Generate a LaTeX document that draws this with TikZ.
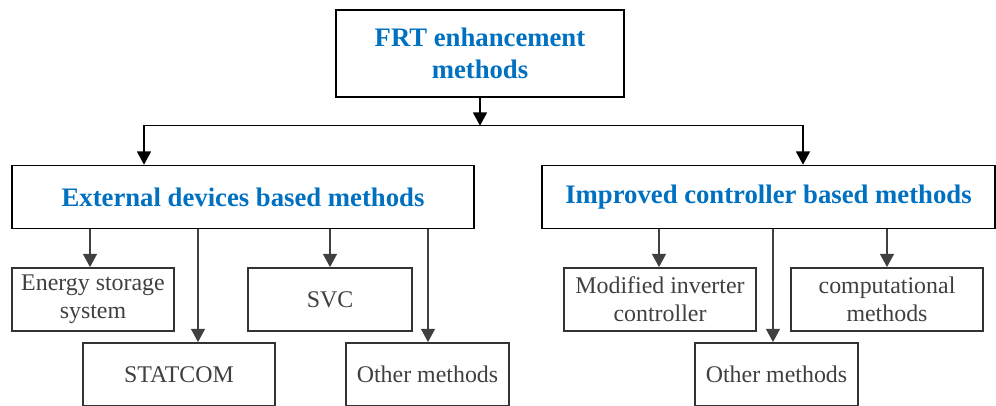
\documentclass[tikz,border=0pt]{standalone}
\usepackage{fontspec}
\setmainfont{Liberation Serif}
\usepackage{tikz}
\usetikzlibrary{positioning, arrows.meta}
\usepackage{xcolor}
\definecolor{headblue}{RGB}{0,112,192}
\definecolor{leafgray}{RGB}{64,64,64}

\begin{document}
\begin{tikzpicture}[
    node distance=0.95cm and 1cm,
    head/.style={draw, line width=1pt, fill=white, inner sep=0pt, minimum height=1.575cm,
                 align=center, text=headblue, font=\fontsize{19}{22.8}\selectfont\bfseries},
    leaf/.style={draw=leafgray!80!black, line width=1pt, fill=white, inner sep=0pt,
                 minimum height=1.575cm, align=center, text=leafgray,
                 font=\fontsize{17}{19.9}\selectfont},
    arr/.style={-{Triangle[length=9.5pt, width=10pt]}, line width=1pt},
    leafarr/.style={arr, draw=leafgray},
]
\useasboundingbox (0,0) rectangle (24.9,-10.125);

% FRT root
\node[head, minimum width=7.2cm, minimum height=2.175cm] (frt) at (12,-1.3375)
    {FRT enhancement\\methods};
\coordinate[below=0.7cm of frt.south] (split);

% Two families of methods
\node[head, minimum width=11.55cm, below=1.675cm of frt, xshift=-5.925cm] (ext)
    {External devices based methods};
\node[head, minimum width=11.325cm, below=1.675cm of frt, xshift=7.2125cm] (imp)
    {Improved controller based methods};
\draw[arr] (frt) -- (split);
\draw[arr] (split) -| ([xshift=-2.475cm]ext.north);
\draw[arr] (split) -| ([xshift=0.8625cm]imp.north);

% Left -- external devices
\node[leaf, minimum width=4.05cm, below=0.95cm of ext, xshift=-3.75cm]  (ess)  {Energy storage\\system};
\node[leaf, minimum width=4.1cm,  below=0.95cm of ext, xshift=2.175cm]  (svc)  {SVC};
\node[leaf, minimum width=4.8cm,  below=2.825cm of ext, xshift=-1.6cm]  (stat) {STATCOM};
\node[leaf, minimum width=4.075cm, below=2.825cm of ext, xshift=4.6125cm] (othL) {Other methods};
\draw[leafarr] ([xshift=-3.825cm]ext.south) -- ([xshift=-3.825cm]ext.south |- ess.north);
\draw[leafarr] ([xshift=-1.125cm]ext.south) -- ([xshift=-1.125cm]ext.south |- stat.north);
\draw[leafarr] ([xshift=2.175cm]ext.south)  -- (svc);
\draw[leafarr] ([xshift=4.625cm]ext.south)  -- ([xshift=4.625cm]ext.south |- othL.north);

% Right -- improved controllers
\node[leaf, minimum width=4.8cm,  below=0.95cm of imp, xshift=-2.7125cm] (minv) {Modified inverter\\controller};
\node[leaf, minimum width=4.8cm,  below=0.95cm of imp, xshift=2.9625cm]  (comp) {computational\\methods};
\node[leaf, minimum width=4.075cm, below=2.825cm of imp, xshift=0.2cm]   (othR) {Other methods};
\draw[leafarr] ([xshift=-2.7375cm]imp.south) -- ([xshift=-2.7375cm]imp.south |- minv.north);
\draw[leafarr] ([xshift=0.1125cm]imp.south)  -- ([xshift=0.1125cm]imp.south |- othR.north);
\draw[leafarr] ([xshift=2.9625cm]imp.south)  -- ([xshift=2.9625cm]imp.south |- comp.north);
\end{tikzpicture}
\end{document}
